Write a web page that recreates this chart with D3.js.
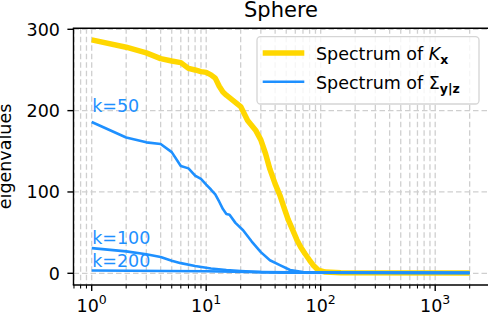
<!DOCTYPE html>
<html><head><meta charset="utf-8">
<script src="https://cdn.jsdelivr.net/npm/d3@7"></script>
<style>body{margin:0;background:#fff}svg{display:block}text{font-family:"DejaVu Sans",sans-serif}</style>
</head><body><svg id="c" width="488" height="319"></svg>
<script>
// Data (index, eigenvalue)
const kxIdx  = [1,2,3,4,5,6,7,8,9,10,11,12,13,14,15,17,20,23,27,30,33,36,40,44,48,52,57,62,67,73,80,86,95,110,150,2000];
const kxVal  = [287,278,271,264,261,259,252,250,248,247,244,240,230,223,219,213,205,188,176,164,147,128,110,96,80,66,53,41,32,24,16,10,4,1.5,0.8,0.5];
const k50Idx = [1,2,3,4,5,6,7,8,9,10,11,12,13,14,15,16,18,21,25,30,36,44,54,70,100,2000];
const k50Val = [186,167,161,159,149,132,129,120,116,109,103,97,88,79,73,72,62,53,39,26,16,10,4,1.5,0.8,0.5];
const k100Idx = [1,2,3,4,5,6,8,11,15,20,30,50,2000];
const k100Val = [31,27,23.5,20,15.5,12.5,9,6,4,2.8,1.5,0.8,0.5];
const k200Idx = [1,10,30,100,2000];
const k200Val = [3.5,2.5,1.5,0.8,0.5];
const yTicks = [0,100,200,300];
const xTicks = [1,10,100,1000];
const seriesLabels = [{t:"k=50", v:200},{t:"k=100", v:37},{t:"k=200", v:9}];

const svg = d3.select("#c");
const L = 73.5, R = 488.6, T = 28.3, B = 285;
const x = d3.scaleLog().domain([1,1000]).range([91.7,435.2]);
const y = d3.scaleLinear().domain([0,300]).range([273.3,29.3]);
const GOLD = "#FFD700", BLUE = "#1E90FF";

svg.append("defs").append("clipPath").attr("id","clip")
  .append("rect").attr("x",L).attr("y",T).attr("width",R-L).attr("height",B-T);

// grid
const g = svg.append("g").attr("clip-path","url(#clip)");
const minor = [];
for (let e=-1;e<=3;e++) for (let m=1;m<=9;m++) minor.push(m*Math.pow(10,e));
const xmin = x.invert(L), xmax = x.invert(R);
const gridX = minor.filter(v=>v>=xmin && v<=xmax);
g.selectAll(".gx").data(gridX).join("line")
  .attr("x1",d=>x(d)).attr("x2",d=>x(d)).attr("y1",T).attr("y2",B)
  .attr("stroke","#cfcfcf").attr("stroke-width",1.3).attr("stroke-dasharray","5.5,3");
g.selectAll(".gy").data(yTicks).join("line")
  .attr("x1",L).attr("x2",R).attr("y1",d=>y(d)).attr("y2",d=>y(d))
  .attr("stroke","#cfcfcf").attr("stroke-width",1.3).attr("stroke-dasharray","5.5,3");

// lines
const line = d3.line().x(d=>x(d[0])).y(d=>y(d[1]));
const zip = (a,b)=>a.map((v,i)=>[v,b[i]]);
g.append("path").datum(zip(kxIdx,kxVal)).attr("d",line).attr("fill","none")
  .attr("stroke",GOLD).attr("stroke-width",5.5).attr("stroke-linejoin","round");
[[k50Idx,k50Val],[k100Idx,k100Val],[k200Idx,k200Val]].forEach(([a,b])=>{
  g.append("path").datum(zip(a,b)).attr("d",line).attr("fill","none")
    .attr("stroke",BLUE).attr("stroke-width",2.6).attr("stroke-linejoin","round");
});

// series labels
seriesLabels.forEach(s=>{
  svg.append("text").attr("x",x(1)+0.5).attr("y",y(s.v)+1).attr("fill",BLUE)
    .attr("font-size",17.5).text(s.t);
});

// spines
svg.append("line").attr("x1",L).attr("x2",L).attr("y1",T).attr("y2",B).attr("stroke","#000").attr("stroke-width",1.4);
svg.append("line").attr("x1",L-0.7).attr("x2",R).attr("y1",B).attr("y2",B).attr("stroke","#000").attr("stroke-width",1.4);
svg.append("line").attr("x1",L-0.7).attr("x2",R).attr("y1",T).attr("y2",T).attr("stroke","#000").attr("stroke-width",1.4);

// y ticks
yTicks.forEach(v=>{
  svg.append("line").attr("x1",L-6.1).attr("x2",L).attr("y1",y(v)).attr("y2",y(v)).attr("stroke","#000").attr("stroke-width",1.4);
  svg.append("text").attr("x",L-13.5).attr("y",y(v)).attr("dy","0.36em").attr("text-anchor","end")
    .attr("font-size",17.5).text(v);
});
// x ticks
gridX.forEach(v=>{
  const major = xTicks.includes(v);
  svg.append("line").attr("x1",x(v)).attr("x2",x(v)).attr("y1",B).attr("y2",B+(major?6.1:3.5))
    .attr("stroke","#000").attr("stroke-width",major?1.4:1.05);
});
xTicks.forEach(v=>{
  const e = Math.round(Math.log10(v));
  const t = svg.append("text").attr("x",x(v)).attr("y",311.5).attr("text-anchor","middle").attr("font-size",17.5);
  t.append("tspan").text("10");
  t.append("tspan").attr("font-size",12.5).attr("dy",-7.5).text(e);
});

// title and axis label
svg.append("text").attr("x",281).attr("y",17.3).attr("text-anchor","middle").attr("font-size",21).text("Sphere");
svg.append("text").attr("transform","translate(11,156.5) rotate(-90)").attr("text-anchor","middle")
  .attr("font-size",17.5).text("eigenvalues");

// legend
const lg = svg.append("g");
lg.append("rect").attr("x",257).attr("y",36.7).attr("width",222).attr("height",67.3).attr("rx",3.5)
  .attr("fill","#fff").attr("fill-opacity",0.8).attr("stroke","#d5d5d5").attr("stroke-width",1.3);
lg.append("line").attr("x1",262.7).attr("x2",304.3).attr("y1",53).attr("y2",53).attr("stroke",GOLD).attr("stroke-width",5.5);
lg.append("line").attr("x1",262.7).attr("x2",304.3).attr("y1",81.7).attr("y2",81.7).attr("stroke",BLUE).attr("stroke-width",2.6);
const t1 = lg.append("text").attr("x",316).attr("y",60).attr("font-size",17.5);
t1.append("tspan").text("Spectrum of ");
t1.append("tspan").attr("font-style","italic").text("K");
t1.append("tspan").attr("font-weight","bold").attr("font-size",12.5).attr("dy",3.5).text("x");
const t2 = lg.append("text").attr("x",316).attr("y",89).attr("font-size",17.5);
t2.append("tspan").text("Spectrum of Σ");
t2.append("tspan").attr("font-weight","bold").attr("font-size",12.5).attr("dy",3.5).text("y|z");
</script></body></html>
